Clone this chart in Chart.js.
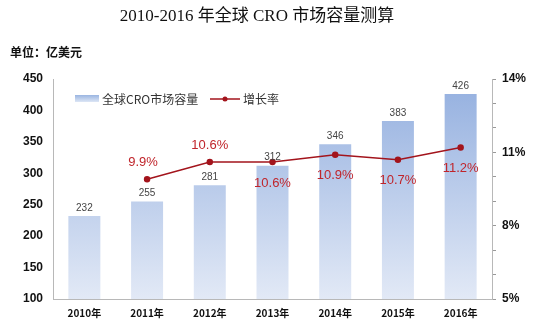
<!DOCTYPE html>
<html>
<head>
<meta charset="utf-8">
<script src="https://cdn.jsdelivr.net/npm/chart.js@4.4.0/dist/chart.umd.min.js"></script>
<style>
html, body { margin: 0; padding: 0; background: #fff; }
#wrap { width: 539px; height: 331px; }
</style>
</head>
<body>
<div id="wrap"><canvas id="c" width="539" height="331"></canvas></div>
<script>
var years = ["2010年", "2011年", "2012年", "2013年", "2014年", "2015年", "2016年"];
var marketSize = [232, 255, 281, 312, 346, 383, 426];
var growthRate = [null, 9.9, 10.6, 10.6, 10.9, 10.7, 11.2];
var rightTicks = [5, 8, 11, 14];

var cjk = "'Noto Sans CJK SC', sans-serif";
var darkRed = "#a3141c";

// title, unit and the legend drawn inside the plot
var extras = {
  id: "extras",
  afterDraw: function (chart) {
    var ctx = chart.ctx;
    ctx.save();
    ctx.fillStyle = "#111";
    ctx.textAlign = "center";
    ctx.textBaseline = "middle";
    ctx.font = "17px 'Liberation Serif', 'Noto Sans CJK SC', serif";
    ctx.fillText("2010-2016 年全球 CRO 市场容量测算", 257, 17);
    ctx.textAlign = "left";
    ctx.font = "bold 12px " + cjk;
    ctx.fillText("单位：亿美元", 10, 52);

    // legend
    var g = ctx.createLinearGradient(0, 95, 0, 102);
    g.addColorStop(0, "#9ab5e1");
    g.addColorStop(1, "#dde6f5");
    ctx.fillStyle = g;
    ctx.fillRect(75, 95, 24, 7);
    ctx.fillStyle = "#333";
    ctx.font = "12px " + cjk;
    ctx.fillText("全球CRO市场容量", 102, 99);
    ctx.strokeStyle = darkRed;
    ctx.lineWidth = 1.5;
    ctx.beginPath();
    ctx.moveTo(210, 99);
    ctx.lineTo(240, 99);
    ctx.stroke();
    ctx.fillStyle = darkRed;
    ctx.beginPath();
    ctx.arc(225, 99, 2.5, 0, Math.PI * 2);
    ctx.fill();
    ctx.fillStyle = "#333";
    ctx.fillText("增长率", 243, 99);

    // bar value labels
    var bars = chart.getDatasetMeta(0).data;
    ctx.textAlign = "center";
    ctx.textBaseline = "bottom";
    ctx.font = "10px 'Liberation Sans', sans-serif";
    ctx.fillStyle = "#444";
    bars.forEach(function (b, i) {
      ctx.fillText(String(marketSize[i]), b.x, b.y - 3);
    });

    // growth labels
    var pts = chart.getDatasetMeta(1).data;
    ctx.font = "13px 'Liberation Sans', sans-serif";
    ctx.fillStyle = "#c0252b";
    ctx.textBaseline = "middle";
    pts.forEach(function (p, i) {
      if (growthRate[i] == null) return;
      var txt = growthRate[i].toFixed(1) + "%";
      if (i <= 2) {
        ctx.fillText(txt, p.x - (i == 1 ? 4 : 0), p.y - 17);
      } else {
        ctx.fillText(txt, p.x, p.y + 21);
      }
    });
    ctx.restore();
  }
};

var ctx = document.getElementById("c").getContext("2d");
var barFill = function (context) {
  var area = context.chart.chartArea;
  if (!area) return "#a8c0e6";
  var g = context.chart.ctx.createLinearGradient(0, 79, 0, area.bottom);
  g.addColorStop(0, "#93afdf");
  g.addColorStop(1, "#e2e9f6");
  return g;
};

new Chart(ctx, {
  type: "bar",
  data: {
    labels: years,
    datasets: [{
      label: "全球CRO市场容量",
      data: marketSize,
      backgroundColor: barFill,
      borderWidth: 0,
      categoryPercentage: 1,
      barPercentage: 0.51,
      yAxisID: "y",
      order: 2
    }, {
      type: "line",
      label: "增长率",
      data: growthRate,
      borderColor: darkRed,
      backgroundColor: darkRed,
      borderWidth: 1.5,
      pointRadius: 2.5,
      pointStyle: "circle",
      spanGaps: false,
      yAxisID: "y1",
      order: 1
    }]
  },
  options: {
    responsive: false,
    animation: false,
    layout: { padding: { top: 79, left: 0, right: 0, bottom: 0 } },
    plugins: { legend: { display: false }, tooltip: { enabled: false } },
    scales: {
      x: {
        offset: true,
        grid: { display: false, drawTicks: false },
        border: { color: "#b8b8b8" },
        ticks: {
          color: "#111",
          font: { family: "'Noto Sans CJK SC'", size: 10, weight: "bold" },
          padding: 8,
          maxRotation: 0
        },
        afterFit: function (s) { s.height = 32; }
      },
      y: {
        position: "left",
        min: 100,
        max: 450,
        ticks: {
          stepSize: 50,
          color: "#111",
          font: { family: "'Liberation Sans'", size: 12, weight: "bold" },
          padding: 10
        },
        grid: { display: false, drawTicks: false },
        border: { color: "#b8b8b8" },
        afterFit: function (s) { s.width = 53; }
      },
      y1: {
        position: "right",
        min: 5,
        max: 14,
        ticks: {
          stepSize: 1,
          color: "#111",
          font: { family: "'Liberation Sans'", size: 12, weight: "bold" },
          padding: 6,
          callback: function (v) { return rightTicks.indexOf(v) >= 0 ? v + "%" : ""; }
        },
        grid: { drawOnChartArea: false, tickLength: 4, color: "#999" },
        border: { color: "#b8b8b8" },
        afterFit: function (s) { s.width = 47; }
      }
    }
  },
  plugins: [extras]
});
</script>
</body>
</html>
